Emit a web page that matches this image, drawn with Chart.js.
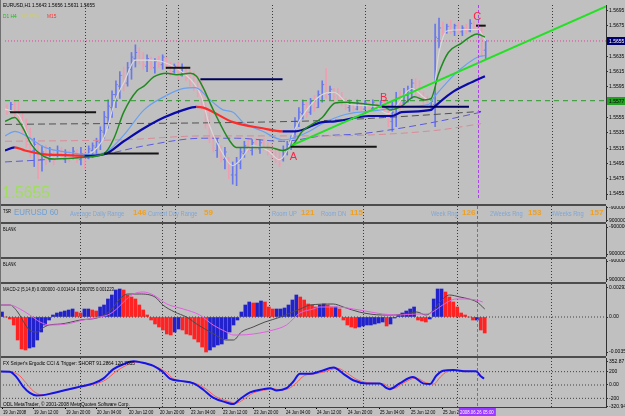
<!DOCTYPE html>
<html><head><meta charset="utf-8">
<script src="https://cdn.jsdelivr.net/npm/chart.js@4.4.1/dist/chart.umd.min.js"></script>
<style>
html,body{margin:0;padding:0;background:#c0c0c0;}
#wrap{position:relative;width:625px;height:416px;overflow:hidden;background:#c0c0c0;font-family:'Liberation Sans',Arial,sans-serif;}
canvas{position:absolute;left:0;}
.sep{position:absolute;left:0;width:606px;height:2px;background:#4c4c4c;}
.t{position:absolute;white-space:nowrap;font-size:6px;color:#000;line-height:1;transform-origin:0 0;transform:scaleX(0.8);}
.r{color:#7fa6d6;font-size:7px;transform:scaleX(0.82);}
.n{color:#f0a020;font-size:8px;font-weight:bold;transform:none;}
</style></head><body><div id="wrap">
<canvas id="cMain" width="625" height="204" style="top:0"></canvas>
<canvas id="cTsr" width="625" height="16" style="top:206px"></canvas>
<canvas id="cB1" width="625" height="33" style="top:224px"></canvas>
<canvas id="cB2" width="625" height="23" style="top:259px"></canvas>
<canvas id="cMacd" width="625" height="72" style="top:284px"></canvas>
<canvas id="cCci" width="625" height="58" style="top:358px"></canvas>
<div class="sep" style="top:204px"></div>
<div class="sep" style="top:222px"></div>
<div class="sep" style="top:257px"></div>
<div class="sep" style="top:282px"></div>
<div class="sep" style="top:356px"></div>
<div class="sep" style="top:407px;height:1px;background:#404040"></div>
<div style="position:absolute;left:0;top:0;width:1px;height:408px;background:#707070"></div>

<div class="t" style="left:3px;top:2px">EURUSD,H1 1.5643 1.5656 1.5631 1.5655</div>
<div class="t" style="left:3px;top:13px;color:#10c010">D1 H4</div>
<div class="t" style="left:22px;top:13px;color:#c8c888;font-weight:bold">H1 M30</div>
<div class="t" style="left:47px;top:13px;color:#ff3030">M15</div>
<div class="t" style="left:2px;top:184px;font-size:17px;color:#a0dc60;transform:scaleX(0.92)">1.5655</div>

<div class="t" style="left:3px;top:209px;font-size:5px">TSR</div>
<div class="t" style="left:14px;top:208px;font-size:9px;color:#6c9fd6;transform:scaleX(0.88)">EURUSD 60</div>
<div class="t r" style="left:70px;top:210px">Average Daily Range</div>
<div class="t n" style="left:133px;top:209px">146</div>
<div class="t r" style="left:148px;top:210px">Current Day Range</div>
<div class="t n" style="left:204px;top:209px">59</div>
<div class="t r" style="left:272px;top:210px">Room UP</div>
<div class="t n" style="left:301px;top:209px">121</div>
<div class="t r" style="left:321px;top:210px">Room DN</div>
<div class="t n" style="left:350px;top:209px">115</div>
<div class="t r" style="left:431px;top:210px">Week Rng</div>
<div class="t n" style="left:462px;top:209px">126</div>
<div class="t r" style="left:490px;top:210px">2Weeks Rng</div>
<div class="t n" style="left:528px;top:209px">153</div>
<div class="t r" style="left:551px;top:210px">4Weeks Rng</div>
<div class="t n" style="left:590px;top:209px">157</div>

<div class="t" style="left:3px;top:227px;font-size:5px">BLANK</div>
<div class="t" style="left:3px;top:262px;font-size:5px">BLANK</div>
<div class="t" style="left:3px;top:286px;transform:scaleX(0.72)">MACD-2 (5,14,8) 0.000000 -0.001414 0.000705 0.001223</div>
<div class="t" style="left:3px;top:360px;transform:scaleX(0.8)">FX Sniper's Ergodic CCI &amp; Trigger: SHORT 91.2864 120.7855</div>
<div class="t" style="left:3px;top:401px;transform:scaleX(0.8)">ODL MetaTrader, © 2001-2008 MetaQuotes Software Corp.</div>
</div>
<script>
// ---------------- DATA ----------------
const xTickBars   = [0,8,16,24,32,40,48,56,64,72,80,88,96,104,112];
const xTickLabels = ['19 Jun 2008','19 Jun 12:00','19 Jun 20:00','20 Jun 04:00','20 Jun 12:00','20 Jun 20:00','23 Jun 04:00','23 Jun 12:00','23 Jun 20:00','24 Jun 04:00','24 Jun 12:00','24 Jun 20:00','25 Jun 04:00','25 Jun 12:00','25 Jun 20:00'];
const daySeparators = [20,40.8,44,68,92,116,140];
const cursorBar = 121;
const cursorLabel = '2008.06.26 05:00';

const highs = [1.5572,1.5575,1.5578,1.5578,1.5563,1.5553,1.5541,1.5528,1.5522,1.5518,
1.5519,1.5516,1.5513,1.5518,1.5516,1.5513,1.5512,1.5516,1.5513,1.5516,
1.5513,1.5518,1.5522,1.5528,1.5543,1.5563,1.5578,1.5590,1.5603,1.5615,
1.5621,1.5627,1.5640,1.5650,1.5646,1.5640,1.5637,1.5634,1.5632,1.5635,
1.5637,1.5634,1.5627,1.5625,1.5627,1.5625,1.5621,1.5618,1.5615,1.5609,
1.5603,1.5590,1.5565,1.5534,1.5528,1.5518,1.5516,1.5503,1.5497,1.5503,
1.5516,1.5524,1.5528,1.5526,1.5528,1.5526,1.5528,1.5522,1.5521,1.5516,
1.5513,1.5518,1.5524,1.5531,1.5555,1.5568,1.5578,1.5575,1.5580,1.5584,
1.5590,1.5603,1.5619,1.5596,1.5593,1.5593,1.5588,1.5580,1.5578,1.5575,
1.5578,1.5574,1.5577,1.5575,1.5578,1.5574,1.5577,1.5578,1.5572,1.5575,
1.5588,1.5590,1.5593,1.5596,1.5605,1.5606,1.5603,1.5588,1.5583,1.5580,
1.5677,1.5685,1.5680,1.5677,1.5682,1.5677,1.5680,1.5675,1.5677,1.5683,
1.5681,1.5677,1.5675,1.5656];
const lows = [1.5559,1.5563,1.5555,1.5549,1.5534,1.5516,1.5503,1.5491,1.5475,1.5485,
1.5493,1.5497,1.5493,1.5501,1.5500,1.5496,1.5497,1.5501,1.5496,1.5493,
1.5488,1.5501,1.5503,1.5506,1.5513,1.5528,1.5541,1.5555,1.5568,1.5580,
1.5590,1.5596,1.5605,1.5621,1.5625,1.5618,1.5615,1.5618,1.5613,1.5620,
1.5618,1.5621,1.5609,1.5613,1.5605,1.5609,1.5603,1.5596,1.5590,1.5582,
1.5565,1.5541,1.5522,1.5510,1.5503,1.5497,1.5488,1.5475,1.5468,1.5466,
1.5488,1.5503,1.5510,1.5506,1.5513,1.5508,1.5512,1.5506,1.5501,1.5496,
1.5491,1.5498,1.5506,1.5513,1.5528,1.5543,1.5553,1.5555,1.5559,1.5563,
1.5568,1.5575,1.5580,1.5578,1.5575,1.5573,1.5570,1.5565,1.5563,1.5563,
1.5565,1.5563,1.5565,1.5563,1.5565,1.5565,1.5568,1.5563,1.5543,1.5537,
1.5543,1.5565,1.5572,1.5575,1.5580,1.5584,1.5580,1.5572,1.5568,1.5565,
1.5543,1.5646,1.5662,1.5665,1.5665,1.5662,1.5665,1.5662,1.5665,1.5667,
1.5670,1.5665,1.5634,1.5631];
const opens = [1.5570,1.5563,1.5572,1.5560,1.5552,1.5540,1.5520,1.5512,1.5520,1.5500,
1.5510,1.5500,1.5508,1.5502,1.5512,1.5500,1.5509,1.5503,1.5511,1.5500,
1.5508,1.5502,1.5512,1.5516,1.5522,1.5536,1.5555,1.5568,1.5585,1.5596,
1.5610,1.5600,1.5618,1.5632,1.5640,1.5632,1.5622,1.5632,1.5620,1.5630,
1.5624,1.5632,1.5625,1.5615,1.5622,1.5610,1.5620,1.5608,1.5602,1.5596,
1.5588,1.5572,1.5545,1.5528,1.5512,1.5515,1.5500,1.5502,1.5480,1.5480,
1.5495,1.5508,1.5520,1.5512,1.5522,1.5514,1.5522,1.5516,1.5512,1.5506,
1.5502,1.5500,1.5510,1.5518,1.5528,1.5548,1.5560,1.5572,1.5562,1.5576,
1.5568,1.5584,1.5598,1.5585,1.5592,1.5584,1.5580,1.5576,1.5568,1.5574,
1.5566,1.5572,1.5566,1.5574,1.5567,1.5574,1.5568,1.5575,1.5566,1.5550,
1.5560,1.5582,1.5574,1.5584,1.5590,1.5600,1.5592,1.5584,1.5578,1.5570,
1.5572,1.5658,1.5672,1.5666,1.5674,1.5668,1.5675,1.5667,1.5672,1.5668,
1.5678,1.5674,1.5668,1.5643];
const closes = [1.5562,1.5572,1.5560,1.5552,1.5540,1.5520,1.5512,1.5520,1.5500,1.5510,
1.5500,1.5508,1.5499,1.5512,1.5505,1.5509,1.5502,1.5511,1.5500,1.5508,
1.5498,1.5514,1.5518,1.5524,1.5538,1.5556,1.5570,1.5585,1.5598,1.5610,
1.5600,1.5620,1.5634,1.5640,1.5630,1.5624,1.5632,1.5622,1.5628,1.5624,
1.5634,1.5625,1.5614,1.5622,1.5610,1.5620,1.5606,1.5600,1.5594,1.5586,
1.5570,1.5545,1.5528,1.5515,1.5522,1.5502,1.5510,1.5485,1.5492,1.5498,
1.5510,1.5518,1.5514,1.5522,1.5516,1.5522,1.5516,1.5510,1.5505,1.5500,
1.5494,1.5512,1.5520,1.5528,1.5550,1.5562,1.5572,1.5562,1.5576,1.5568,
1.5585,1.5598,1.5588,1.5592,1.5582,1.5578,1.5574,1.5568,1.5574,1.5566,
1.5574,1.5566,1.5574,1.5567,1.5575,1.5568,1.5575,1.5566,1.5550,1.5562,
1.5580,1.5572,1.5586,1.5592,1.5600,1.5590,1.5584,1.5578,1.5572,1.5576,
1.5660,1.5672,1.5666,1.5674,1.5668,1.5675,1.5667,1.5672,1.5668,1.5678,
1.5672,1.5668,1.5643,1.5655];

const priceTicks = [1.5695,1.5675,1.5655,1.5635,1.5615,1.5595,1.5575,1.5555,1.5535,1.5515,1.5495,1.5475,1.5455];
const priceBoxes = [1.5655,1.5577];

const greenBars = [-0.5,2,3.8,6.4,8.9,12.2,19.9,25,27.5,30,33.4,35.2,37.7,41,43.6,47.1,48.7,50.4,53,57.3,58.9,63.9,67.5,70.8,73.4,75.9,81,84.3,86.9,93,97.1,98.3,101.4,104.7,107.3,109,110.8,113.4,116.7,119.2,120.8,122.8];
const greenMA   = [1.5550,1.5555,1.5544,1.5519,1.5506,1.5501,1.5503,1.5508,1.5528,1.5562,1.5590,1.5596,1.5608,1.5613,1.5611,1.5613,1.5609,1.5594,1.5565,1.5524,1.5516,1.5516,1.5516,1.5512,1.5519,1.5537,1.5555,1.5574,1.5575,1.5572,1.5569,1.5565,1.5570,1.5582,1.5578,1.5580,1.5611,1.5640,1.5652,1.5661,1.5664,1.5660];
const lightBlueBars = [-0.5,2,4.6,9.7,16.6,19.9,25,30,35.2,40.3,45.4,48.4,52.2,55.5,58.1,60.6,65.7,70.8,73.4,77.7,81,86.9,96.3,100.6,108.3,109.8,113.4,116.7,121,122.8];
const lightBlueMA   = [1.5531,1.5537,1.5532,1.5516,1.5509,1.5507,1.5509,1.5532,1.5565,1.5582,1.5593,1.5594,1.5578,1.5565,1.5562,1.5549,1.5537,1.5526,1.5528,1.5537,1.5547,1.5559,1.5565,1.5569,1.5572,1.5582,1.5603,1.5619,1.5634,1.5636];
const navyBars = [-0.5,2,4.6,9.7,14.8,19.9,25,30,35.2,40.3,45.4,48.7,50.4,58.1,65.7,70.8,74.1,81,84.3,93,98.9,101.4,109,109.8,114.1,118.5,122.8];
const navyMA   = [1.5512,1.5516,1.5512,1.5507,1.5506,1.5505,1.5507,1.5524,1.5541,1.5555,1.5565,1.5569,1.5568,1.5549,1.5541,1.5537,1.5537,1.5549,1.5550,1.5557,1.5557,1.5562,1.5565,1.5569,1.5587,1.5599,1.5609];
const whiteBars = [-0.5,3,6,9,12,18,22,25,28,30,33,36,40,44,48,50,52,55,58,60,63,67,70,72,74,77,81,84,88,94,98,100,104,107,109,111,113,118,121,123];
const whiteMA   = [1.5566,1.5558,1.5525,1.5505,1.5502,1.5504,1.5510,1.5530,1.5580,1.5600,1.5630,1.5630,1.5628,1.5618,1.5600,1.5582,1.5545,1.5512,1.5492,1.5500,1.5518,1.5512,1.5500,1.5512,1.5540,1.5565,1.5585,1.5588,1.5572,1.5570,1.5560,1.5570,1.5593,1.5582,1.5576,1.5640,1.5668,1.5670,1.5670,1.5655];
const grayDashBars = [-0.5,81,97,121.8];
const grayDash     = [1.5546,1.5551,1.5555,1.5563];
const pinkDashBars = [-0.5,30,50.4,81,109.8,121.8];
const pinkDash     = [1.5524,1.5526,1.5531,1.5531,1.5538,1.5547];
const blueDashBars = [-0.5,9.7,25,35.2,50.4,58.9,70.8,81,91.2,109.8,121.8];
const blueDash     = [1.5497,1.5500,1.5507,1.5518,1.5528,1.5528,1.5524,1.5531,1.5534,1.5549,1.5562];

const srLevels = [1.5562,1.5508,1.5620,1.5605,1.5517,1.5569,1.5675];
const srFrom   = [0.8,25,40.8,49.7,72.9,96.3,120.5];
const srTo     = [22.9,39,47.1,70.8,95,118.7,123];
const trendBars   = [72.9,153.9];
const trendPrices = [1.5518,1.5700];
const greenLevel = 1.5577;
const closeLevel = 1.5655;
const markLabels = ['A','B','C'];
const markBars   = [73.6,96.8,120.8];
const markPrices = [1.5503,1.5580,1.5686];

const macdHist = [0.0005,0,-0.0002,-0.0008,-0.0023,-0.0032,-0.0033,-0.0031,-0.0030,-0.0023,
-0.0015,-0.0008,-0.0003,0.0002,0.0004,0.0005,0.0006,0.0007,0.0008,0.0005,
0.0004,0.0008,0.0008,0.0007,0.0006,0.0010,0.0012,0.0018,0.0022,0.0027,
0.0028,0.0027,0.0022,0.0020,0.0018,0.0012,0.0007,0.0002,-0.0003,-0.0007,
-0.0010,-0.0013,-0.0017,-0.0018,-0.0015,-0.0012,-0.0013,-0.0017,-0.0018,-0.0022,
-0.0025,-0.0030,-0.0035,-0.0033,-0.0030,-0.0028,-0.0027,-0.0022,-0.0015,-0.0008,
-0.0003,0.0005,0.0012,0.0015,0.0014,0.0014,0.0016,0.0015,0.0010,0.0008,
0.0008,0.0008,0.0009,0.0012,0.0017,0.0022,0.0020,0.0017,0.0013,0.0012,
0.0010,0.0012,0.0013,0.0012,0.0010,0.0010,0.0008,-0.0003,-0.0008,-0.0010,
-0.0011,-0.0010,-0.0009,-0.0008,-0.0008,-0.0007,-0.0006,-0.0005,-0.0009,-0.0007,
-0.0001,0.0002,0.0004,0.0006,0.0008,0.0010,-0.0003,-0.0004,-0.0005,-0.0002,
0.0018,0.0028,0.0028,0.0025,0.0020,0.0015,0.0010,0.0004,0.0002,0,
-0.0003,-0.0003,-0.0013,-0.0016];
const macdGrayBars = [-0.5,2,4,6,7,9,10,12,15,20,25,28,30,32,35,39,41,44,47,50,54,57,59,61,64,67,71,74,76,78.5,84.4,87,91,97,99.7,104,105.7,108,110,111.6,114,116.7,119,121,123];
const macdGray     = [0.0012,0.0012,0.0005,-0.0008,-0.0013,-0.0015,-0.0012,-0.0008,-0.0007,-0.0003,0,0.0008,0.0018,0.0023,0.0023,0.0020,0.0012,0.0005,0,-0.0008,-0.0017,-0.0023,-0.0023,-0.0015,-0.0010,-0.0005,0,0.0005,0.0008,0.0012,0.0013,0.0010,0.0005,0.0002,0.0002,0.0004,0.0005,0.0002,0.0007,0.0015,0.0022,0.0020,0.0018,0.0015,0.0008];
const macdMagBars = [-0.5,2,4.6,7.1,9.7,12.2,16.5,20.7,25,27.5,29.2,31.8,33.5,36,38.6,42,46.2,50.4,53.8,57.2,58.9,60.6,64,69.1,72.5,75.9,79.3,81,85.2,91.1,97,101.3,105.5,108,109.7,112.3,115.7,118.2,120.8,122.5];
const macdMag     = [0.0012,0.0012,0.0008,0.0002,-0.0005,-0.0008,-0.0007,-0.0003,0,0.0003,0.0008,0.0018,0.0023,0.0025,0.0022,0.0013,0.0008,0.0002,-0.0008,-0.0015,-0.0018,-0.0018,-0.0017,-0.0013,-0.0008,0.0004,0.0008,0.0010,0.0010,0.0007,0.0003,0.0002,0.0003,0.0003,0.0005,0.0012,0.0018,0.0018,0.0017,0.0015];
const macdTicks = [0.00292,0,-0.00351];

const cciBlueBars = [-0.5,2,3.7,5.4,7.1,8.8,10.5,13.1,16.5,19.9,23.3,25.8,28.4,30.9,33.5,35.2,38.6,41.1,42.8,45.4,48.8,51.3,53.8,57.2,58.9,60.6,63.2,66.6,68.3,70,72.5,74.2,75.9,78.5,81.1,84.5,87,89.5,92.9,96.3,98,98.8,101.3,104.7,107.3,109,110.7,112.4,115,118.4,120.8,121.8,122.8];
const cciBlue     = [204,200,119,-24,-119,-157,-152,-119,-71,-24,24,95,238,310,357,343,286,190,95,62,24,-71,-190,-262,-286,-214,-110,-62,-48,-81,-48,48,170,167,205,262,167,71,24,24,-48,-62,24,119,24,14,143,214,224,205,205,143,95];
const cciRedBars = [-0.5,2,4.5,6,8,10,12,14,17,20,24,26.5,29,31.5,34,36,39,42,43.5,46,49.5,52,54.5,58,59.5,61.5,64,67.5,69,71,73,75,77,80,82,85.5,88,90.5,94,97,99,100,102,105.5,108,110,111.7,113.4,116,119,121,122];
const cciRed     = [200,200,140,40,-90,-145,-140,-110,-70,-30,20,80,200,290,345,335,280,185,100,60,20,-60,-175,-250,-275,-220,-120,-70,-55,-75,-55,30,140,170,195,250,175,80,30,20,-40,-50,20,105,35,15,120,200,220,205,200,155];
const cciLevels = [200,0,-200];
const cciTicks = [352.87,200,0,-200,-320.94];
const blankTicks = [-90000000,90000000];

// ---------------- CHARTS ----------------
const FONT = "'Liberation Sans',Arial,sans-serif";
Chart.defaults.font.family = FONT;
const X_MIN = -0.5, X_MAX = 153.9;

const sepPlugin = {id:'sep', beforeDatasetsDraw(ch){
  const ctx = ch.ctx, a = ch.chartArea, x = ch.scales.x;
  ctx.save(); ctx.lineWidth = 1; ctx.strokeStyle = '#3a3a3a'; ctx.setLineDash([1,2]);
  daySeparators.forEach(b => { const px = Math.round(x.getPixelForValue(b)) + 0.5;
    ctx.beginPath(); ctx.moveTo(px, a.top); ctx.lineTo(px, a.bottom); ctx.stroke(); });
  ctx.restore();
}, afterDatasetsDraw(ch){
  const ctx = ch.ctx, a = ch.chartArea, x = ch.scales.x;
  ctx.save(); ctx.lineWidth = 1; ctx.strokeStyle = '#b040f0'; ctx.setLineDash([3,2]);
  const cx = Math.round(x.getPixelForValue(cursorBar)) + 0.5;
  ctx.beginPath(); ctx.moveTo(cx, a.top); ctx.lineTo(cx, a.bottom); ctx.stroke();
  ctx.restore();
}};

function yAxis(min, max, ticks, fmt, extra){
  return Object.assign({position:'right', min, max,
    afterFit(s){ s.width = 19; s.paddingTop = 0; s.paddingBottom = 0; },
    afterBuildTicks(s){ s.ticks = ticks.map(v => ({value:v})); },
    grid:{display:true, drawOnChartArea:false, drawTicks:true, tickLength:2, color:'#303030'},
    border:{display:true, color:'#303030', width:1},
    ticks:{padding:1, autoSkip:false, font:{size:5, family:FONT}, color:'#000', callback:fmt}
  }, extra || {});
}
function makeChart(id, datasets, y, plugins, pad){
  return new Chart(document.getElementById(id), {
    type:'line', data:{datasets},
    options:{responsive:false, animation:false, devicePixelRatio:1, events:[],
      layout:{padding:pad || 0},
      plugins:{legend:{display:false}, tooltip:{enabled:false}},
      elements:{point:{radius:0}},
      scales:{x:{type:'linear', min:X_MIN, max:X_MAX, offset:false, display:false, grid:{offset:false}}, y}},
    plugins:[sepPlugin].concat(plugins || [])
  });
}
function lineDS(xs, ys, color, width, extra){
  return Object.assign({type:'line', data:xs.map((x,i) => ({x, y:ys[i]})), borderColor:color, borderWidth:width,
    pointRadius:0, fill:false, cubicInterpolationMode:'monotone', order:10}, extra || {});
}
function hLine(x0, x1, v, color, width, dash, order){
  return {type:'line', data:[{x:x0,y:v},{x:x1,y:v}], borderColor:color, borderWidth:width, borderDash:dash || [],
    pointRadius:0, fill:false, order:order || 20};
}

// ----- main price pane -----
const UP = '#6878ec', DN = '#ee9eb2';
const barColor = c => closes[c.dataIndex] >= opens[c.dataIndex] ? UP : DN;
const mainSets = [
  {type:'bar', data:highs.map((h,i) => ({x:i, y:[lows[i], h]})), backgroundColor:barColor, borderWidth:0, barThickness:1, grouped:false, order:100},
  {type:'scatter', data:opens.map((o,i) => ({x:i-0.3, y:o})), pointStyle:'line', pointRadius:0.7, pointBorderWidth:1, pointBorderColor:barColor, showLine:false, order:99},
  {type:'scatter', data:closes.map((c,i) => ({x:i+0.3, y:c})), pointStyle:'line', pointRadius:0.7, pointBorderWidth:1, pointBorderColor:barColor, showLine:false, order:99},
  hLine(X_MIN, X_MAX, greenLevel, '#2a9a2a', 1, [5,4], 90),
  hLine(X_MIN, X_MAX, closeLevel, '#e0409a', 1, [1,2], 90),
  lineDS(grayDashBars, grayDash, '#505050', 1, {borderDash:[7,4], order:60}),
  lineDS(pinkDashBars, pinkDash, '#d88a98', 1, {borderDash:[7,4], order:60}),
  lineDS(blueDashBars, blueDash, '#5a5ae0', 1, {borderDash:[7,4], order:60}),
  lineDS(whiteBars, whiteMA, '#dadada', 1.1, {order:50}),
  lineDS(lightBlueBars, lightBlueMA, '#6aa0f0', 1.2, {order:14}),
  lineDS(navyBars, navyMA, '#0a0aa8', 2.2, {order:13, segment:{borderColor: c => c.p1.parsed.y >= c.p0.parsed.y ? '#0a0aa8' : '#ff2a2a'}}),
  lineDS(greenBars, greenMA, '#1f8a1f', 1.5, {order:12}),
  lineDS(trendBars, trendPrices, '#22e022', 2, {order:5, cubicInterpolationMode:'default'})
];
srLevels.forEach((v,i) => mainSets.push(hLine(srFrom[i], srTo[i], v, (i===3||i===5) ? '#00005c' : '#141414', 2, [], 4)));

const boxPlugin = {id:'pbox', afterDraw(ch){
  const y = ch.scales.y, ctx = ch.ctx, r = ch.chartArea.right;
  const fills = ['#000070','#22a022'], texts = ['#ffffff','#000000'];
  ctx.save(); ctx.font = '5px ' + FONT; ctx.textBaseline = 'middle';
  priceBoxes.forEach((p,i) => { const py = Math.round(y.getPixelForValue(p));
    ctx.fillStyle = fills[i]; ctx.fillRect(r+1, py-4, 19, 8);
    ctx.fillStyle = texts[i]; ctx.fillText(p.toFixed(4), r+3, py+0.5); });
  ctx.restore();
}};
const markPlugin = {id:'marks', afterDatasetsDraw(ch){
  const x = ch.scales.x, y = ch.scales.y, ctx = ch.ctx;
  ctx.save(); ctx.font = "11px 'Liberation Sans',Arial,sans-serif"; ctx.fillStyle = '#ff2244';
  ctx.textAlign = 'center'; ctx.textBaseline = 'middle';
  markLabels.forEach((t,i) => ctx.fillText(t, x.getPixelForValue(markBars[i]), y.getPixelForValue(markPrices[i])));
  ctx.restore();
}};
makeChart('cMain', mainSets, yAxis(1.54486, 1.5702, priceTicks, v => v.toFixed(4)), [markPlugin, boxPlugin]);

// ----- TSR and blank panes -----
const blankFmt = v => String(v);
makeChart('cTsr', [], yAxis(-110000000, 110000000, blankTicks, blankFmt, {reverse:true}));
makeChart('cB1',  [], yAxis(-110000000, 110000000, blankTicks, blankFmt, {reverse:true}));
makeChart('cB2',  [], yAxis(-110000000, 110000000, blankTicks, blankFmt, {reverse:true}));

// ----- MACD -----
const macdColor = c => { const i = c.dataIndex; return (i === 0 || macdHist[i] >= macdHist[i-1]) ? '#2222cc' : '#ff2222'; };
makeChart('cMacd', [
  {type:'bar', data:macdHist.map((v,i) => ({x:i, y:v})), backgroundColor:macdColor, borderWidth:0, barThickness:3, grouped:false, order:100},
  hLine(X_MIN, X_MAX, 0, '#404040', 1, [1,2], 90),
  lineDS(macdGrayBars, macdGray, '#4a4a4a', 1, {order:11}),
  lineDS(macdMagBars, macdMag, '#e060e0', 1, {order:10})
], yAxis(-0.0039, 0.0033, macdTicks, v => v === 0 ? '0.00' : String(v)));

// ----- CCI -----
const xLabelPlugin = {id:'xl', afterDraw(ch){
  const x = ch.scales.x, ctx = ch.ctx, b = ch.chartArea.bottom;
  ctx.save(); ctx.font = '6px ' + FONT; ctx.fillStyle = '#000'; ctx.textBaseline = 'top';
  xTickBars.forEach((bar,i) => { const px = Math.round(x.getPixelForValue(bar));
    ctx.fillRect(px, b, 1, 2);
    ctx.save(); ctx.translate(px+1, b+2); ctx.scale(0.7, 1); ctx.fillText(xTickLabels[i], 0, 0); ctx.restore(); });
  const cx = x.getPixelForValue(cursorBar);
  ctx.fillStyle = '#9a3cff'; ctx.fillRect(cx-18, b+1, 37, 8);
  ctx.fillStyle = '#ffffff'; ctx.textAlign = 'center';
  ctx.translate(cx, b+2); ctx.scale(0.72, 1); ctx.fillText(cursorLabel, 0, 0);
  ctx.restore();
}};
const cciSets = cciLevels.map(v => hLine(X_MIN, X_MAX, v, '#404040', 1, [1,2], 90));
cciSets.push(lineDS(cciRedBars, cciRed, '#ff5a5a', 1, {order:11}));
cciSets.push(lineDS(cciBlueBars, cciBlue, '#1414e6', 2, {order:10}));
makeChart('cCci', cciSets, yAxis(-330, 405, cciTicks, v => v === 0 ? '0.00' : String(v)), [xLabelPlugin], {bottom:9});
</script>
</body></html>
